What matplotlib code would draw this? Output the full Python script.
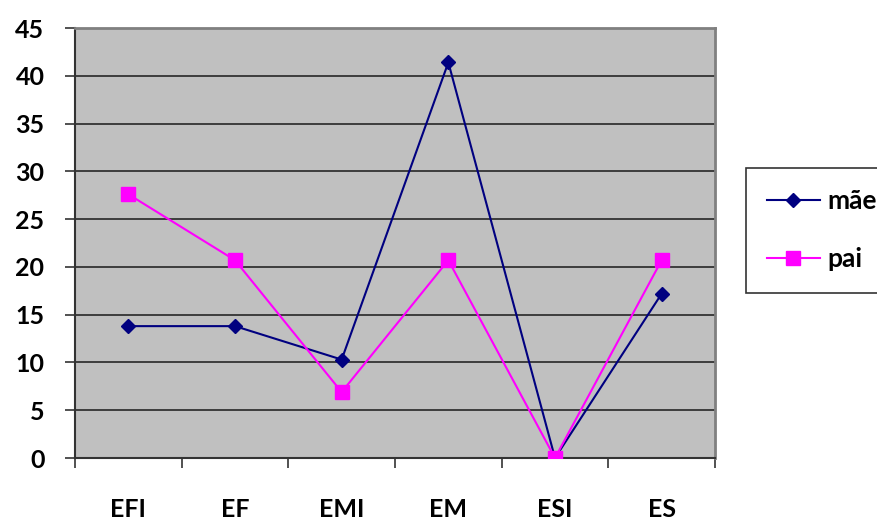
import numpy as np
import matplotlib
matplotlib.use('agg')
from matplotlib import pyplot as plt

categorias = ['EFI', 'EF', 'EMI', 'EM', 'ESI', 'ES']
mae = [13.8, 13.8, 10.3, 41.4, 0.0, 17.2]
pai = [27.6, 20.7, 6.9, 20.7, 0.0, 20.7]
yticks = [0, 5, 10, 15, 20, 25, 30, 35, 40, 45]

plt.rcParams['font.family'] = ['Lato', 'DejaVu Sans']

fig = plt.figure(figsize=(8.78, 5.2), dpi=100)
ax = fig.add_axes([75 / 878, 1 - 458 / 520, 640 / 878, 430 / 520])
ax.set_facecolor('#C0C0C0')

x = np.arange(len(categorias))
ax.plot(x, mae, color='#000080', marker='D', markersize=7, linewidth=1.5, label='mãe', zorder=3)
ax.plot(x, pai, color='#FF00FF', marker='s', markersize=10, linewidth=1.5, label='pai', zorder=3)

ax.set_xlim(-0.5, len(categorias) - 0.5)
ax.set_ylim(0, 45)
ax.set_yticks(yticks)
ax.set_yticklabels([str(v) for v in yticks], fontsize=18, fontweight='bold')
ax.yaxis.grid(True, color='#333333', linewidth=1.3)
ax.set_axisbelow(True)

ax.set_xticks(x)
ax.set_xticklabels(categorias, fontsize=18, fontweight='bold')
ax.tick_params(axis='x', length=0, pad=29)
ax.set_xticks(np.arange(-0.5, len(categorias)), minor=True)
ax.tick_params(axis='x', which='minor', length=7, width=1.2, color='#333333', direction='out')
ax.tick_params(axis='y', length=7, width=1.2, color='#333333', direction='out', pad=15)

for s in ['left', 'bottom']:
    ax.spines[s].set_color('#333333')
    ax.spines[s].set_linewidth(1.5)
for s in ['top', 'right']:
    ax.spines[s].set_color('#808080')
    ax.spines[s].set_linewidth(2)

leg = fig.legend(loc='upper left', bbox_to_anchor=(746 / 878, 1 - 168 / 520),
                 fontsize=19, frameon=True, fancybox=False, edgecolor='black',
                 labelspacing=1.3, handlelength=2.0, borderpad=0.8, handletextpad=0.3,
                 borderaxespad=0)
for t in leg.get_texts():
    t.set_fontweight('bold')
leg.get_frame().set_linewidth(1.2)

fig.savefig('out.png', dpi=100)
